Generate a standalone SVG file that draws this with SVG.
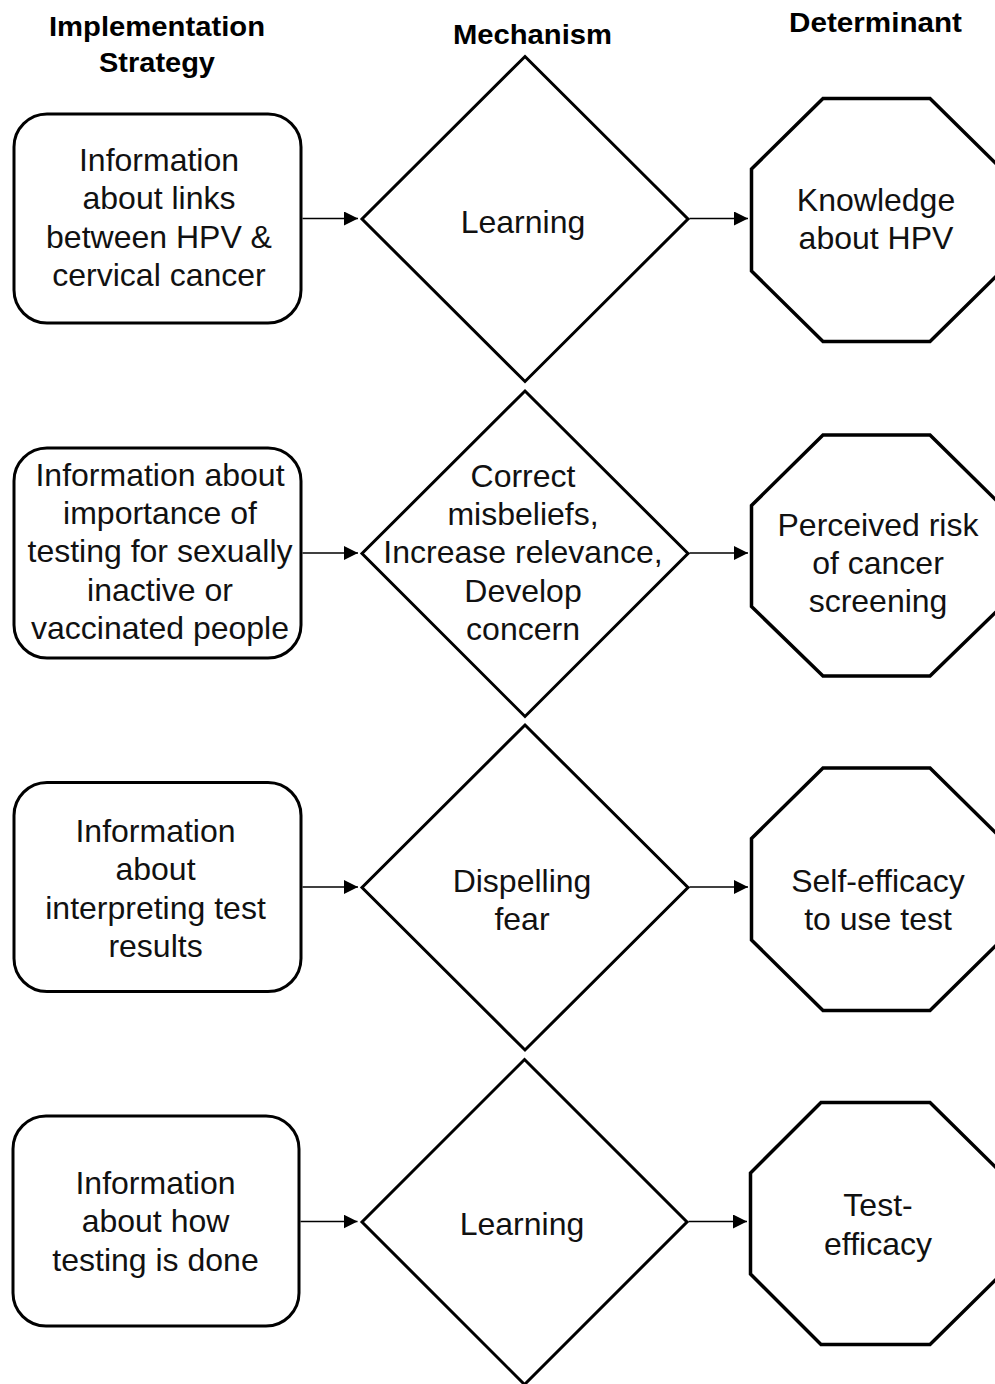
<svg xmlns="http://www.w3.org/2000/svg" width="995" height="1384" viewBox="0 0 995 1384">
  <defs>
    <marker id="arrowhead" markerUnits="userSpaceOnUse" markerWidth="14" markerHeight="14" refX="14" refY="7" orient="auto">
      <path d="M0,0 L14,7 L0,14 Z" fill="#000"/>
    </marker>
  </defs>
  <style>
    .strategy { fill: #fff; stroke: #000; stroke-width: 3; }
    .mechanism { fill: #fff; stroke: #000; stroke-width: 3; }
    .determinant { fill: #fff; stroke: #000; stroke-width: 3.5; stroke-linejoin: miter; }
    .label { font-family: "Liberation Sans", Arial, sans-serif; font-size: 32px; fill: #111; text-anchor: middle; }
    .header { font-family: "Liberation Sans", Arial, sans-serif; font-size: 27.5px; font-weight: bold; fill: #000; text-anchor: middle; }
    .link { stroke: #000; stroke-width: 1.6; fill: none; marker-end: url(#arrowhead); }
  </style>
  <rect width="995" height="1384" fill="#fff"/>

  <!-- column headers -->
  <g id="headers">
    <text class="header" x="157" y="36" textLength="216" lengthAdjust="spacingAndGlyphs">Implementation</text>
    <text class="header" x="157" y="72" textLength="116" lengthAdjust="spacingAndGlyphs">Strategy</text>
    <text class="header" x="532.5" y="43.5" textLength="159" lengthAdjust="spacingAndGlyphs">Mechanism</text>
    <text class="header" x="875.5" y="31.5" textLength="173" lengthAdjust="spacingAndGlyphs">Determinant</text>
  </g>

  <!-- row 1 -->
  <g id="strategy-1">
    <rect class="strategy" x="14" y="114" width="287" height="209" rx="33" ry="33"/>
    <text class="label" x="159" y="171">Information</text>
    <text class="label" x="159" y="209.3">about links</text>
    <text class="label" x="159" y="247.6">between HPV &amp;</text>
    <text class="label" x="159" y="286">cervical cancer</text>
  </g>
  <g id="mechanism-1">
    <polygon class="mechanism" points="525,56.5 688,219 525,381.5 362,219"/>
    <text class="label" x="523" y="232.5">Learning</text>
  </g>
  <g id="determinant-1">
    <polygon class="determinant" points="823,98.5 930,98.5 1001.5,169 1001.5,271 930,341.5 823,341.5 751.5,271 751.5,169"/>
    <text class="label" x="876" y="210.5">Knowledge</text>
    <text class="label" x="876" y="249">about HPV</text>
  </g>

  <!-- row 2 -->
  <g id="strategy-2">
    <rect class="strategy" x="14" y="448" width="287" height="210" rx="33" ry="33"/>
    <text class="label" x="160" y="485.5">Information about</text>
    <text class="label" x="160" y="523.8">importance of</text>
    <text class="label" x="160" y="562.2">testing for sexually</text>
    <text class="label" x="160" y="600.5">inactive or</text>
    <text class="label" x="160" y="638.8">vaccinated people</text>
  </g>
  <g id="mechanism-2">
    <polygon class="mechanism" points="525,391 688,553.5 525,716.5 362,553.5"/>
    <text class="label" x="523" y="486.5">Correct</text>
    <text class="label" x="523" y="524.8">misbeliefs,</text>
    <text class="label" x="523" y="563.2">Increase relevance,</text>
    <text class="label" x="523" y="601.5">Develop</text>
    <text class="label" x="523" y="639.8">concern</text>
  </g>
  <g id="determinant-2">
    <polygon class="determinant" points="823,435 930,435 1001.5,505.5 1001.5,606.5 930,676 823,676 751.5,606.5 751.5,505.5"/>
    <text class="label" x="878" y="535.5">Perceived risk</text>
    <text class="label" x="878" y="573.8">of cancer</text>
    <text class="label" x="878" y="612.2">screening</text>
  </g>

  <!-- row 3 -->
  <g id="strategy-3">
    <rect class="strategy" x="14" y="782.5" width="287" height="209" rx="33" ry="33"/>
    <text class="label" x="155.5" y="842">Information</text>
    <text class="label" x="155.5" y="880.3">about</text>
    <text class="label" x="155.5" y="918.5">interpreting test</text>
    <text class="label" x="155.5" y="956.8">results</text>
  </g>
  <g id="mechanism-3">
    <polygon class="mechanism" points="525,725 688,887.5 525,1050 362,887.5"/>
    <text class="label" x="522" y="892">Dispelling</text>
    <text class="label" x="522" y="930.3">fear</text>
  </g>
  <g id="determinant-3">
    <polygon class="determinant" points="823,768 930,768 1001.5,838.5 1001.5,940 930,1010.5 823,1010.5 751.5,940 751.5,838.5"/>
    <text class="label" x="878" y="892">Self-efficacy</text>
    <text class="label" x="878" y="930.3">to use test</text>
  </g>

  <!-- row 4 -->
  <g id="strategy-4">
    <rect class="strategy" x="13" y="1116" width="286" height="210" rx="33" ry="33"/>
    <text class="label" x="155.5" y="1194">Information</text>
    <text class="label" x="155.5" y="1232.3">about how</text>
    <text class="label" x="155.5" y="1270.5">testing is done</text>
  </g>
  <g id="mechanism-4">
    <polygon class="mechanism" points="524.5,1059.5 687,1222 524.5,1384.5 362,1222"/>
    <text class="label" x="522" y="1235">Learning</text>
  </g>
  <g id="determinant-4">
    <polygon class="determinant" points="821,1102.5 930,1102.5 1001.5,1173 1001.5,1274 930,1344.5 821,1344.5 750.5,1274 750.5,1173"/>
    <text class="label" x="878" y="1216">Test-</text>
    <text class="label" x="878" y="1254.5">efficacy</text>
  </g>

  <!-- connectors -->
  <g id="connectors">
    <line class="link" x1="302.5" y1="218.5" x2="358" y2="218.5"/>
    <line class="link" x1="689.5" y1="218.5" x2="748" y2="218.5"/>
    <line class="link" x1="302.5" y1="553" x2="358" y2="553"/>
    <line class="link" x1="689.5" y1="553" x2="748" y2="553"/>
    <line class="link" x1="302.5" y1="887" x2="358" y2="887"/>
    <line class="link" x1="689.5" y1="887" x2="748" y2="887"/>
    <line class="link" x1="300.5" y1="1221.5" x2="357.5" y2="1221.5"/>
    <line class="link" x1="688.5" y1="1221.5" x2="747" y2="1221.5"/>
  </g>
</svg>
